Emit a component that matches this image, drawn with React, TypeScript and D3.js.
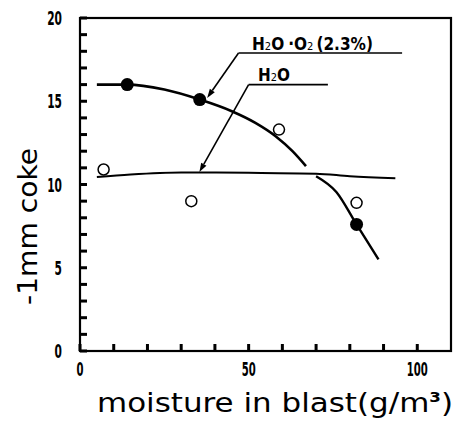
import * as d3 from 'd3';

// measured points
const filledX = [14, 35.5, 82];
const filledY = [16.0, 15.1, 7.6];
const openX = [7, 33, 59, 82];
const openY = [10.9, 9.0, 13.3, 8.9];

// H2O·O2 fitted curve (broken where it crosses the H2O line)
const o2UpperX = [5, 14, 25, 35.5, 45, 52, 58, 63, 67];
const o2UpperY = [16.0, 16.0, 15.7, 15.1, 14.4, 13.7, 12.9, 12.0, 11.1];
const o2LowerX = [70, 76, 82, 88.5];
const o2LowerY = [10.5, 9.55, 7.6, 5.5];

// H2O fitted curve
const h2oX = [5, 15, 30, 50, 70, 80, 93.5];
const h2oY = [10.45, 10.6, 10.72, 10.7, 10.65, 10.5, 10.38];

const xTicks = [0, 10, 20, 30, 40, 50, 60, 70, 80, 90, 100];
const xLabels = [0, 50, 100];
const yTicks = d3.range(0, 21, 1);
const yLabels = [0, 5, 10, 15, 20];

const W = 462;
const H = 421;

const x = d3.scaleLinear().domain([0, 110]).range([80, 451]);
const y = d3.scaleLinear().domain([0, 20]).range([351, 18]);

const line = d3
  .line<[number, number]>()
  .x((d) => x(d[0]))
  .y((d) => y(d[1]))
  .curve(d3.curveMonotoneX);

const zip = (a: number[], b: number[]) => a.map((v, i) => [v, b[i]] as [number, number]);

const tickFont = "'DejaVu Sans Condensed', 'DejaVu Sans', sans-serif";

function Arrow({ x1, y1, x2, y2 }: { x1: number; y1: number; x2: number; y2: number }) {
  // small filled arrowhead at (x2, y2)
  const a = Math.atan2(y2 - y1, x2 - x1);
  const len = 9;
  const w = 3;
  const bx = x2 - len * Math.cos(a);
  const by = y2 - len * Math.sin(a);
  const px = -Math.sin(a) * w;
  const py = Math.cos(a) * w;
  return (
    <g>
      <line x1={x1} y1={y1} x2={bx} y2={by} stroke="#000" strokeWidth={1.6} />
      <path d={`M${x2},${y2}L${bx + px},${by + py}L${bx - px},${by - py}Z`} fill="#000" />
    </g>
  );
}

export default function App() {
  const [left, right] = x.range();
  const [bottom, top] = y.range();

  return (
    <svg width={W} height={H} style={{ position: 'absolute', left: 0, top: 0, background: '#fff' }}>
      <rect x={0} y={0} width={W} height={H} fill="#fff" />

      {/* frame */}
      <rect x={left} y={top} width={right - left} height={bottom - top} fill="none" stroke="#000" strokeWidth={2.2} />

      {/* inward ticks */}
      <g fill="#000">
        {xTicks.map((t) => (
          <rect key={'xt' + t} x={x(t) - 1.5} y={bottom - 7} width={3} height={7} />
        ))}
        {yTicks.map((t) => (
          <rect key={'yt' + t} x={left} y={y(t) - 1.5} width={7} height={3} />
        ))}
      </g>

      {/* tick labels */}
      {xLabels.map((t) => (
        <text
          key={'xl' + t}
          x={x(t)}
          y={bottom + 25}
          textAnchor="middle"
          fontFamily={tickFont}
          fontWeight="bold"
          fontSize={19}
          textLength={String(t).length * 7}
          lengthAdjust="spacingAndGlyphs"
        >
          {t}
        </text>
      ))}
      {yLabels.map((t) => (
        <text
          key={'yl' + t}
          x={62}
          y={y(t) + 7}
          textAnchor="end"
          fontFamily={tickFont}
          fontWeight="bold"
          fontSize={19}
          textLength={String(t).length * 7.4}
          lengthAdjust="spacingAndGlyphs"
        >
          {t}
        </text>
      ))}

      {/* axis titles */}
      <text
        x={97}
        y={412}
        fontFamily="'DejaVu Sans', sans-serif"
        fontSize={26}
        textLength={356}
        lengthAdjust="spacingAndGlyphs"
      >
        moisture in blast(g/m<tspan dy={-10} fontSize={14} fontWeight="bold">3</tspan>
        <tspan dy={10}>)</tspan>
      </text>
      <text
        transform="translate(37,305) rotate(-90)"
        fontFamily="'DejaVu Sans', sans-serif"
        fontSize={26}
        textLength={157}
        lengthAdjust="spacingAndGlyphs"
      >
        -1mm coke
      </text>

      {/* curves */}
      <path d={line(zip(h2oX, h2oY)) ?? ''} fill="none" stroke="#000" strokeWidth={2} />
      <path d={line(zip(o2UpperX, o2UpperY)) ?? ''} fill="none" stroke="#000" strokeWidth={2.6} />
      <path d={line(zip(o2LowerX, o2LowerY)) ?? ''} fill="none" stroke="#000" strokeWidth={2.4} />

      {/* points */}
      {openX.map((v, i) => (
        <circle key={'o' + i} cx={x(v)} cy={y(openY[i])} r={5.5} fill="#fff" stroke="#000" strokeWidth={1.5} />
      ))}
      {filledX.map((v, i) => (
        <circle key={'f' + i} cx={x(v)} cy={y(filledY[i])} r={6.5} fill="#000" />
      ))}

      {/* H2O·O2 legend leader */}
      <line x1={x(47)} x2={x(95.5)} y1={y(17.9)} y2={y(17.9)} stroke="#000" strokeWidth={1.6} />
      <Arrow x1={x(47)} y1={y(17.9)} x2={x(37.7)} y2={y(15.2)} />
      <text
        x={252}
        y={y(17.9) - 3}
        fontFamily={tickFont}
        fontWeight="bold"
        fontSize={17}
        textLength={121}
        lengthAdjust="spacingAndGlyphs"
      >
        <tspan>H</tspan>
        <tspan fontSize={11} fontWeight="normal">2</tspan>
        <tspan>O</tspan>
        <tspan dx={4}>·O</tspan>
        <tspan fontSize={11} fontWeight="normal">2</tspan>
        <tspan dx={3}>(2.3%)</tspan>
      </text>

      {/* H2O legend leader */}
      <line x1={x(50)} x2={x(73.5)} y1={y(16.0)} y2={y(16.0)} stroke="#000" strokeWidth={1.6} />
      <Arrow x1={x(50)} y1={y(16.0)} x2={x(35.4)} y2={y(10.75)} />
      <text
        x={258}
        y={y(16.0) - 4}
        fontFamily={tickFont}
        fontWeight="bold"
        fontSize={17}
        textLength={32}
        lengthAdjust="spacingAndGlyphs"
      >
        <tspan>H</tspan>
        <tspan fontSize={11} fontWeight="normal">2</tspan>
        <tspan>O</tspan>
      </text>
    </svg>
  );
}
